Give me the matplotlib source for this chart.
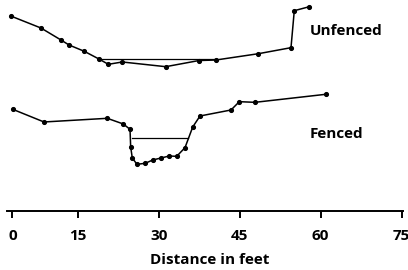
import matplotlib.pyplot as plt

# channel cross sections, distance (ft) vs relative elevation (ft)
unfenced_x = [2.59, 8.20, 11.91, 13.39, 16.22, 18.94, 20.67, 23.26, 31.30,
              37.46, 40.61, 48.44, 54.50, 55.11, 57.89]
unfenced_y = [36.06, 33.83, 31.61, 30.69, 29.52, 28.09, 27.11, 27.54, 26.67,
              27.81, 27.91, 29.07, 30.19, 37.04, 37.78]
unfenced_water_x = [18.94, 40.61]
unfenced_water_y = [28.04, 28.04]

fenced_x = [2.96, 8.76, 20.48, 23.44, 24.69, 24.81, 25.11, 25.98, 27.52, 28.89,
            30.43, 31.96, 33.33, 34.87, 36.30, 37.65, 43.39, 44.93, 47.83, 60.98]
fenced_y = [18.78, 16.43, 17.11, 16.06, 15.07, 11.80, 9.76, 8.59, 8.78, 9.39,
            9.76, 10.13, 10.07, 11.67, 15.50, 17.54, 18.65, 20.19, 20.07, 21.56]
fenced_water_x = [25.0, 35.48]
fenced_water_y = [13.41, 13.41]

tick_pos = [2.9, 15, 30, 45, 60, 75]
tick_labels = ['0', '15', '30', '45', '60', '75']

plt.rcParams['font.family'] = ['Open Sans', 'DejaVu Sans']

fig = plt.figure(figsize=(4.08, 2.70), dpi=100)
ax = fig.add_axes([0, 59.3 / 270, 1, 210.7 / 270])

ax.plot(unfenced_x, unfenced_y, color='black', lw=1.1, marker='o', ms=2.7)
ax.plot(unfenced_water_x, unfenced_water_y, color='black', lw=0.9)
ax.plot(fenced_x, fenced_y, color='black', lw=1.1, marker='o', ms=2.7)
ax.plot(fenced_water_x, fenced_water_y, color='black', lw=0.9)

ax.text(58.0, 33.3, 'Unfenced', fontsize=11, fontweight='bold', va='center')
ax.text(58.0, 14.2, 'Fenced', fontsize=11, fontweight='bold', va='center')

ax.set_xlim(0.61, 76.17)
ax.set_ylim(0, 39.02)
for s in ['top', 'left', 'right']:
    ax.spines[s].set_visible(False)
ax.spines['bottom'].set_linewidth(1.4)
ax.spines['bottom'].set_bounds(1.85, 75.25)
ax.set_yticks([])
ax.set_xticks(tick_pos)
ax.set_xticklabels(tick_labels, fontsize=11, fontweight='bold')
ax.tick_params(axis='x', length=5, width=1.4, pad=8)
ax.patch.set_visible(False)

fig.text(210 / 408, 1 - 260 / 270, 'Distance in feet', fontsize=11,
         fontweight='bold', ha='center', va='center')

fig.savefig('out.png', dpi=100)
